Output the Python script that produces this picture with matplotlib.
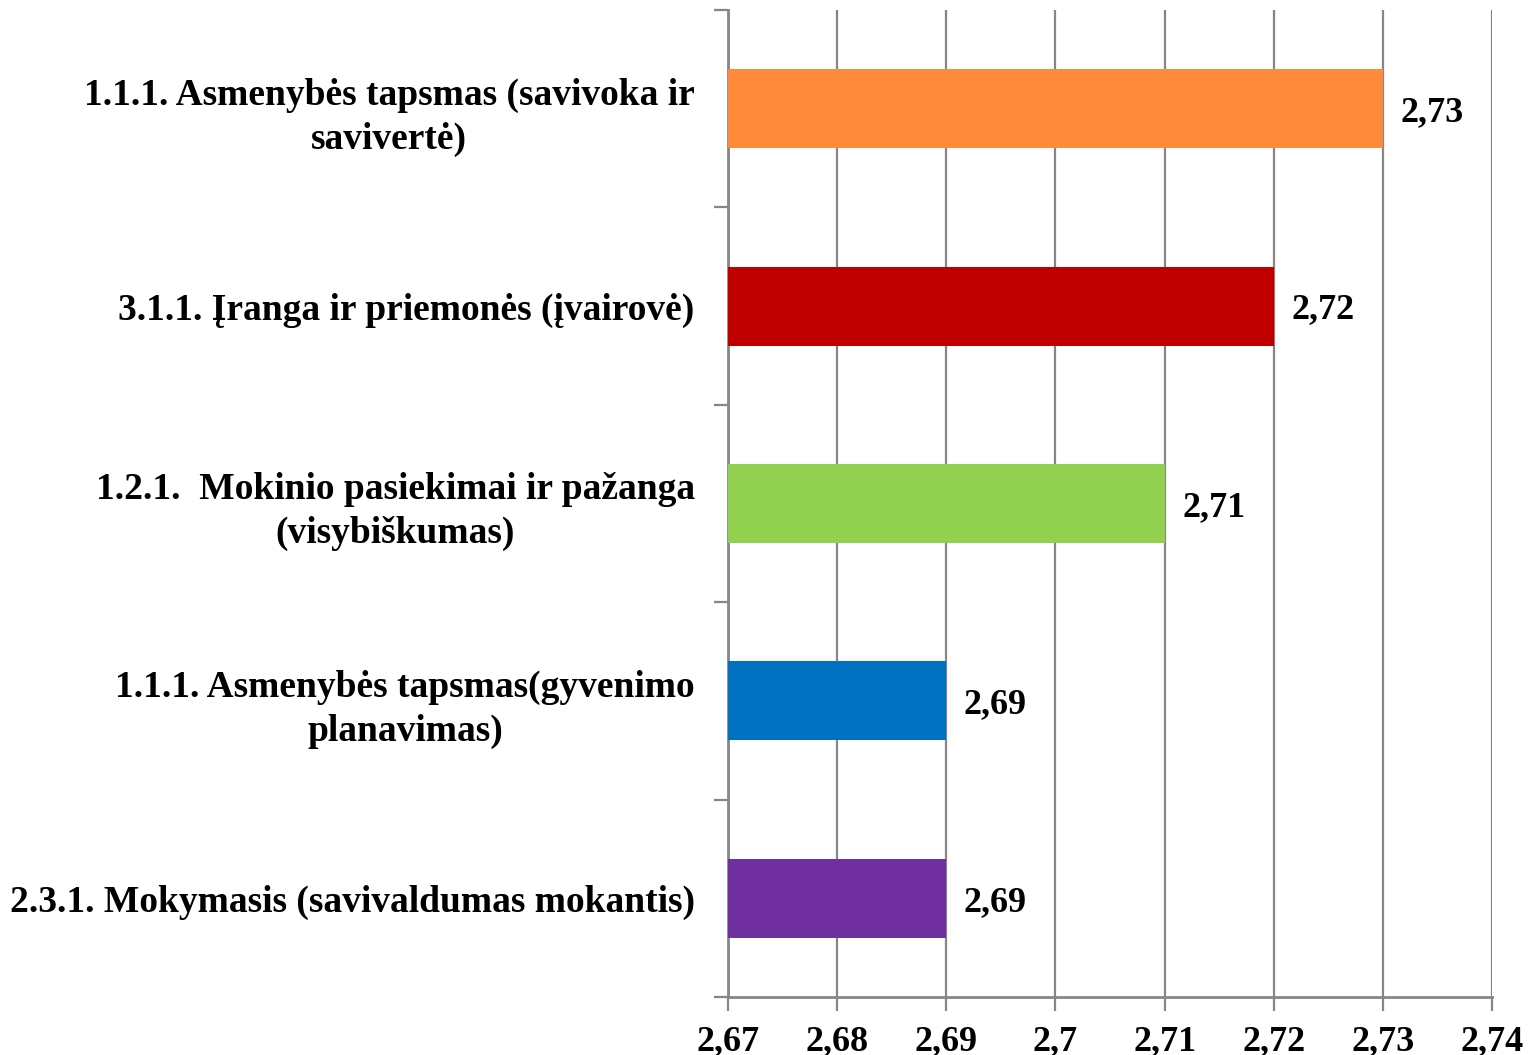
import matplotlib
matplotlib.use("Agg")
import matplotlib.pyplot as plt
from matplotlib.ticker import FixedLocator

categories = [
    "2.3.1. Mokymasis (savivaldumas mokantis)",
    "1.1.1. Asmenybės tapsmas(gyvenimo\nplanavimas)",
    "1.2.1.  Mokinio pasiekimai ir pažanga\n(visybiškumas)",
    "3.1.1. Įranga ir priemonės (įvairovė)",
    "1.1.1. Asmenybės tapsmas (savivoka ir\nsavivertė)",
]
values = [2.69, 2.69, 2.71, 2.72, 2.73]
colors = ["#7030A0", "#0070C0", "#92D050", "#C00000", "#FF8A3A"]
xticks = [2.67, 2.68, 2.69, 2.70, 2.71, 2.72, 2.73, 2.74]

plt.rcParams["font.family"] = ["Liberation Serif", "DejaVu Serif"]
plt.rcParams["font.weight"] = "bold"

fig = plt.figure(figsize=(15.33, 10.55), dpi=100)
ax = fig.add_axes([0.4749, 0.055, 0.4984, 0.9355])

grey = "#868686"
pos = list(range(len(categories)))
ax.barh(pos, [v - xticks[0] for v in values], left=xticks[0], height=0.4,
        color=colors, zorder=3)

for p, v in zip(pos, values):
    ax.text(v + 0.0016, p - 0.02, f"{v:.2f}".replace(".", ","), va="center", ha="left",
            fontsize=26, fontweight="bold", zorder=4)

ax.set_xlim(xticks[0], xticks[-1])
ax.set_ylim(-0.5, len(categories) - 0.5)
ax.set_xticks(xticks)
ax.set_xticklabels([f"{t:g}".replace(".", ",") for t in xticks], fontsize=26,
                   fontweight="bold")
ax.grid(True, axis="x", color=grey, linewidth=1.6, zorder=0)

ax.set_yticks(pos)
ax.set_yticklabels(categories, fontsize=27, fontweight="bold", ha="right",
                   multialignment="center", linespacing=1.32)
ax.tick_params(axis="y", length=0, pad=24)
ax.yaxis.set_minor_locator(FixedLocator([p + 0.5 for p in pos[:-1]] + [-0.5, len(pos) - 0.5]))
ax.tick_params(axis="y", which="minor", length=10, width=1.6, color=grey)
ax.tick_params(axis="x", length=10, width=1.6, color=grey, pad=10)

for side in ["top", "right"]:
    ax.spines[side].set_visible(False)
for side in ["left", "bottom"]:
    ax.spines[side].set_color(grey)
    ax.spines[side].set_linewidth(2)

fig.savefig("out.png", dpi=100)
